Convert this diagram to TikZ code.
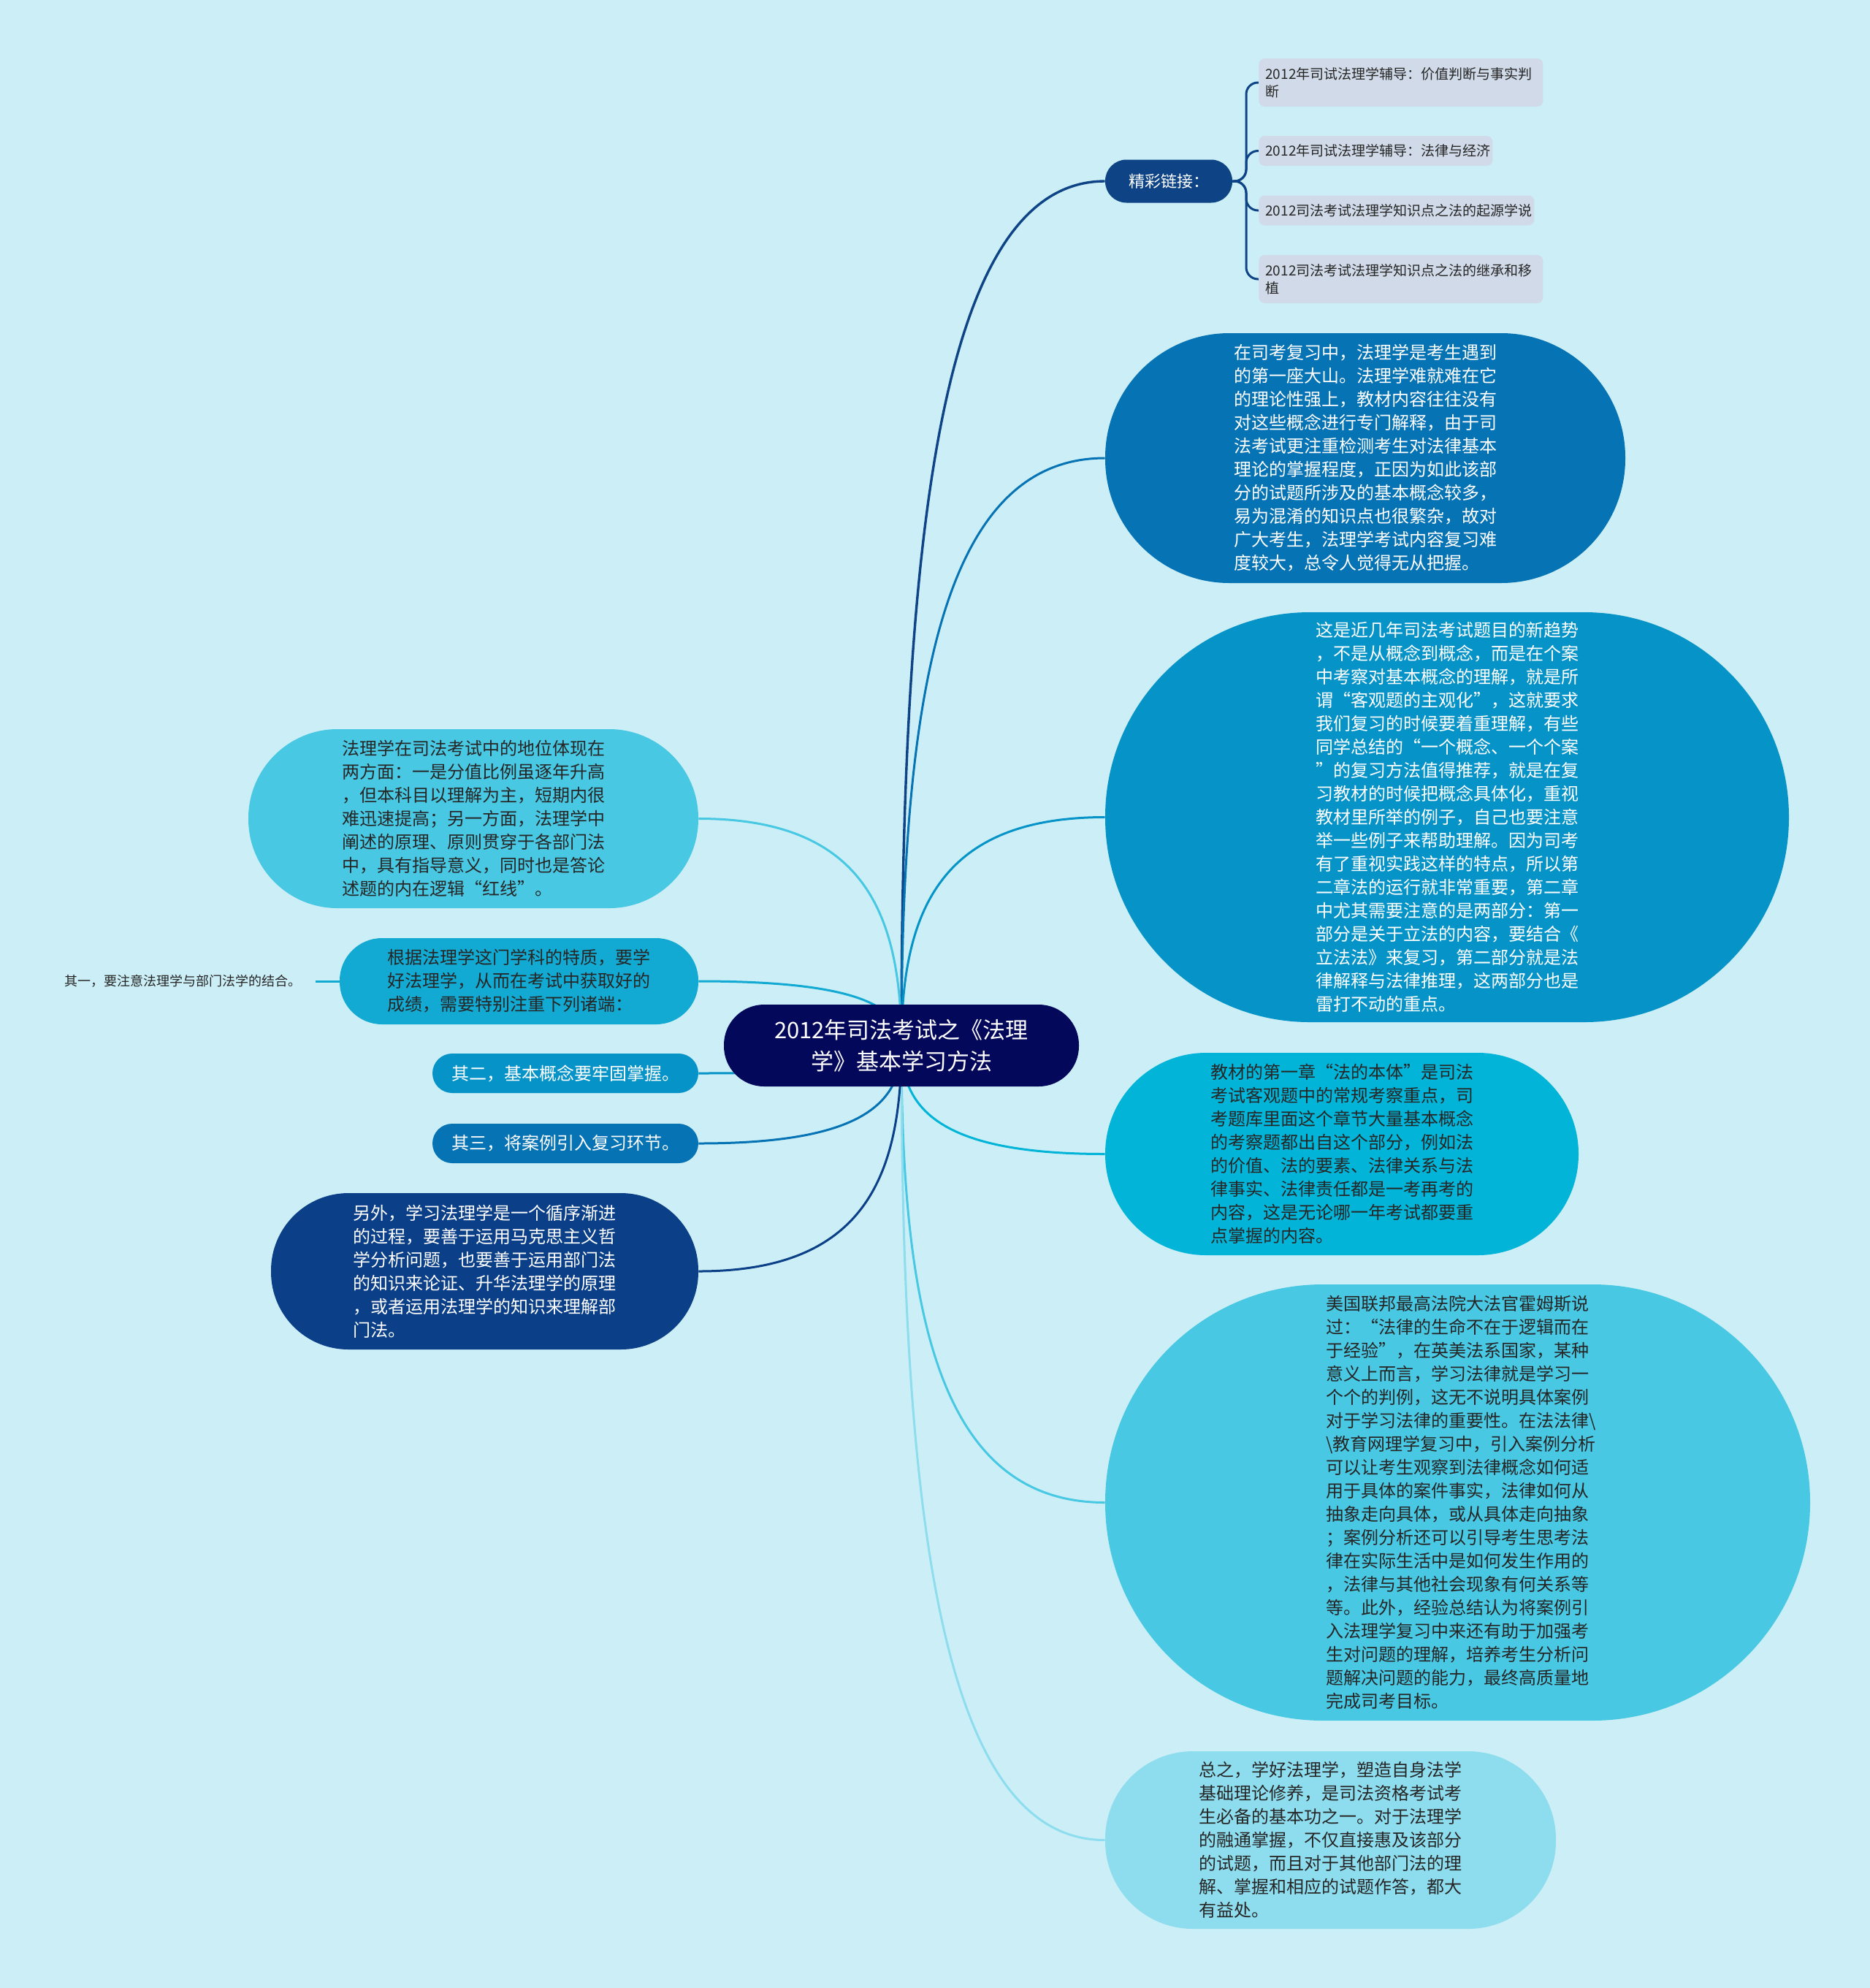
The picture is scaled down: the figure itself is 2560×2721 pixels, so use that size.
\documentclass[tikz,border=0pt]{standalone}
\usepackage{fontspec}
\setmainfont{Noto Sans CJK SC}
\usetikzlibrary{calc,backgrounds}
\definecolor{bgc}{HTML}{CCEFF7}
\definecolor{cRoot}{HTML}{04085A}
\definecolor{cJing}{HTML}{0E4486}
\definecolor{cLink}{HTML}{D0DAE8}
\definecolor{cA}{HTML}{0673B4}
\definecolor{cB}{HTML}{0694C8}
\definecolor{cC}{HTML}{02B4D8}
\definecolor{cD}{HTML}{48C8E3}
\definecolor{cE}{HTML}{8EDDEE}
\definecolor{cF}{HTML}{12AAD2}
\definecolor{cG}{HTML}{0B3F88}
\definecolor{txtd}{HTML}{262626}
\tikzset{
  topic/.style={draw=none, align=left, inner sep=0pt, font=\fontsize{12}{16}\selectfont},
  linkbox/.style={fill=cLink, text=txtd, rounded corners=4pt, align=left, inner xsep=4.5pt, inner ysep=0pt, anchor=west, font=\fontsize{9.5}{12}\selectfont},
  conn/.style={line width=1.5pt, to path={.. controls ($(\tikztostart)!0.6!(\tikztostart |- \tikztotarget)$) and ($(\tikztotarget)!0.8!(\tikztostart |- \tikztotarget)$) .. (\tikztotarget)}}
}
\begin{document}
\begin{tikzpicture}[x=0.5pt,y=-0.5pt]
% root
\node[topic, fill=cRoot, text=white, align=center, font=\fontsize{15.5}{21.5}\selectfont, minimum width=243pt, minimum height=56pt, rounded corners=27.5pt] (root) at (1234,1431) {2012年司法考试之《法理\\学》基本学习方法};
% links parent
\node[topic, fill=cJing, text=white, align=center, font=\fontsize{11}{14}\selectfont, minimum width=87pt, minimum height=29.5pt, rounded corners=14.5pt] (jing) at (1600,248) {精彩链接：};
\node[linkbox, minimum height=33pt, text width=185.5pt] (k1) at (1723,113) {2012年司试法理学辅导：价值判断与事实判\\断};
\node[linkbox, minimum height=20.5pt, text width=151pt] (k2) at (1723,206.5) {2012年司试法理学辅导：法律与经济};
\node[linkbox, minimum height=20.5pt, text width=179.5pt] (k3) at (1723,288) {2012司法考试法理学知识点之法的起源学说};
\node[linkbox, minimum height=33pt, text width=185.5pt] (k4) at (1723,382) {2012司法考试法理学知识点之法的继承和移\\植};
% right topics
\node[topic, fill=cA, text=white, minimum width=356pt, minimum height=171pt, rounded corners=85pt, text width=180pt] (R1) at (1869,627) {在司考复习中，法理学是考生遇到\\的第一座大山。法理学难就难在它\\的理论性强上，教材内容往往没有\\对这些概念进行专门解释，由于司\\法考试更注重检测考生对法律基本\\理论的掌握程度，正因为如此该部\\分的试题所涉及的基本概念较多，\\易为混淆的知识点也很繁杂，故对\\广大考生，法理学考试内容复习难\\度较大，总令人觉得无从把握。};
\node[topic, fill=cB, text=white, minimum width=468pt, minimum height=280.5pt, rounded corners=140pt, text width=180pt] (R2) at (1981,1118.5) {这是近几年司法考试题目的新趋势\\，不是从概念到概念，而是在个案\\中考察对基本概念的理解，就是所\\谓“客观题的主观化”，这就要求\\我们复习的时候要着重理解，有些\\同学总结的“一个概念、一个个案\\”的复习方法值得推荐，就是在复\\习教材的时候把概念具体化，重视\\教材里所举的例子，自己也要注意\\举一些例子来帮助理解。因为司考\\有了重视实践这样的特点，所以第\\二章法的运行就非常重要，第二章\\中尤其需要注意的是两部分：第一\\部分是关于立法的内容，要结合《\\立法法》来复习，第二部分就是法\\律解释与法律推理，这两部分也是\\雷打不动的重点。};
\node[topic, fill=cC, text=txtd, minimum width=324pt, minimum height=138.5pt, rounded corners=69pt, text width=180pt] (R3) at (1837,1579.5) {教材的第一章“法的本体”是司法\\考试客观题中的常规考察重点，司\\考题库里面这个章节大量基本概念\\的考察题都出自这个部分，例如法\\的价值、法的要素、法律关系与法\\律事实、法律责任都是一考再考的\\内容，这是无论哪一年考试都要重\\点掌握的内容。};
\node[topic, fill=cD, text=txtd, minimum width=482.5pt, minimum height=298.5pt, rounded corners=149pt, text width=180pt] (R4) at (1995.5,2056.5) {美国联邦最高法院大法官霍姆斯说\\过：“法律的生命不在于逻辑而在\\于经验”，在英美法系国家，某种\\意义上而言，学习法律就是学习一\\个个的判例，这无不说明具体案例\\对于学习法律的重要性。在法法律\textbackslash\\\textbackslash 教育网理学复习中，引入案例分析\\可以让考生观察到法律概念如何适\\用于具体的案件事实，法律如何从\\抽象走向具体，或从具体走向抽象\\；案例分析还可以引导考生思考法\\律在实际生活中是如何发生作用的\\，法律与其他社会现象有何关系等\\等。此外，经验总结认为将案例引\\入法理学复习中来还有助于加强考\\生对问题的理解，培养考生分析问\\题解决问题的能力，最终高质量地\\完成司考目标。};
\node[topic, fill=cE, text=txtd, minimum width=308.5pt, minimum height=121.5pt, rounded corners=60pt, text width=180pt] (R5) at (1821.5,2518.5) {总之，学好法理学，塑造自身法学\\基础理论修养，是司法资格考试考\\生必备的基本功之一。对于法理学\\的融通掌握，不仅直接惠及该部分\\的试题，而且对于其他部门法的理\\解、掌握和相应的试题作答，都大\\有益处。};
% left topics
\node[topic, fill=cD, text=txtd, minimum width=308pt, minimum height=122.5pt, rounded corners=61pt, text width=180pt] (L1) at (648,1120.5) {法理学在司法考试中的地位体现在\\两方面：一是分值比例虽逐年升高\\，但本科目以理解为主，短期内很\\难迅速提高；另一方面，法理学中\\阐述的原理、原则贯穿于各部门法\\中，具有指导意义，同时也是答论\\述题的内在逻辑“红线”。};
\node[topic, fill=cF, text=txtd, minimum width=245.5pt, minimum height=59pt, rounded corners=29pt, text width=180pt] (L2) at (710.5,1343) {根据法理学这门学科的特质，要学\\好法理学，从而在考试中获取好的\\成绩，需要特别注重下列诸端：};
\node[topic, fill=cB, text=white, align=center, minimum width=182pt, minimum height=27pt, rounded corners=13.5pt] (L3) at (774,1469) {其二，基本概念要牢固掌握。};
\node[topic, fill=cA, text=white, align=center, minimum width=182pt, minimum height=27pt, rounded corners=13.5pt] (L4) at (774,1565) {其三，将案例引入复习环节。};
\node[topic, fill=cG, text=white, minimum width=292.5pt, minimum height=107pt, rounded corners=53pt, text width=180pt] (L5) at (663.5,1740) {另外，学习法理学是一个循序渐进\\的过程，要善于运用马克思主义哲\\学分析问题，也要善于运用部门法\\的知识来论证、升华法理学的原理\\，或者运用法理学的知识来理解部\\门法。};
\node[text=txtd, anchor=east, inner xsep=9.5pt, inner ysep=2pt, font=\fontsize{9}{11}\selectfont] (c1) at (432,1343) {其一，要注意法理学与部门法学的结合。};
% background and connectors
\begin{pgfonlayer}{background}
\fill[bgc] (0,0) rectangle (2560,2721);
\draw[conn, draw=cJing, line width=1.7pt] (root.center) to (jing.west);
\draw[conn, draw=cA] (root.center) to (R1.west);
\draw[conn, draw=cB] (root.center) to (R2.west);
\draw[conn, draw=cC] (root.center) to (R3.west);
\draw[conn, draw=cD] (root.center) to (R4.west);
\draw[conn, draw=cE] (root.center) to (R5.west);
\draw[conn, draw=cD] (root.center) to (L1.east);
\draw[conn, draw=cF] (root.center) to (L2.east);
\draw[conn, draw=cB] (root.center) to (L3.east);
\draw[conn, draw=cA] (root.center) to (L4.east);
\draw[conn, draw=cG] (root.center) to (L5.east);
\draw[draw=cF, line width=1.5pt] (L2.west) -- (c1.east);
\coordinate (br) at (1706,248);
\draw[cJing, line width=1.5pt, rounded corners=8pt] (jing.east) -- (br) |- (k1.west);
\draw[cJing, line width=1.5pt, rounded corners=8pt] (jing.east) -- (br) |- (k2.west);
\draw[cJing, line width=1.5pt, rounded corners=8pt] (jing.east) -- (br) |- (k3.west);
\draw[cJing, line width=1.5pt, rounded corners=8pt] (jing.east) -- (br) |- (k4.west);
\end{pgfonlayer}
\end{tikzpicture}
\end{document}
